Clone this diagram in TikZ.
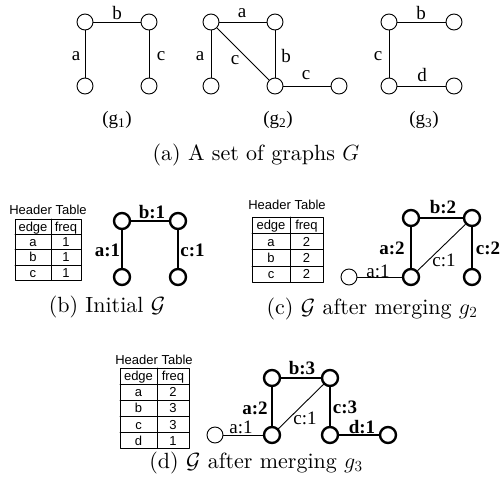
\documentclass[tikz,border=0pt]{standalone}
\usepackage{fix-cm}
\usepackage{fontspec}
\newfontfamily\tmsfont{Liberation Serif}
\newfontfamily\hlvfont{Liberation Sans}
\newfontfamily\capfont{lmroman10-regular.otf}
\usetikzlibrary{positioning}
\begin{document}
\begin{tikzpicture}[x=1pt,y=-1pt,line cap=round,line join=round]
\path[fill=white] (0,0) rectangle (504,485);
\tikzset{vtx/.style={draw,circle,inner sep=0pt,minimum size=16pt,line width=0.9pt,fill=white},vtxb/.style={vtx,line width=2.4pt},edge/.style={draw,line width=0.9pt},edgeb/.style={draw,line width=2.4pt},lbl/.style={font=\fontsize{19}{22}\selectfont\tmsfont,inner sep=0pt},lblb/.style={font=\fontsize{19}{22}\selectfont\tmsfont\bfseries,inner sep=0pt},captxt/.style={font=\fontsize{22}{26}\selectfont\capfont,inner sep=0pt},tbl/.style={draw,line width=0.8pt},cell/.style={font=\fontsize{13}{15}\selectfont\hlvfont,inner sep=0pt,anchor=base}}
% (a) the three graphs
\node[vtx] (g1tl) at (85,22) {}; \node[vtx] (g1tr) at (149,22) {}; \node[vtx] (g1bl) at (85,86) {}; \node[vtx] (g1br) at (149,86) {};
\draw[edge] (g1bl) -- (g1tl); \draw[edge] (g1tl) -- (g1tr); \draw[edge] (g1tr) -- (g1br);
\node[lbl] (g1la) at (76,56) {a}; \node[lbl] (g1lb) at (117,13) {b}; \node[lbl] (g1lc) at (161,56) {c};
\node[lbl] (g1cap) at (117,120) {(g\textsubscript{1})};
\node[vtx] (g2tl) at (211,22) {}; \node[vtx] (g2tr) at (275,22) {}; \node[vtx] (g2bl) at (211,86) {}; \node[vtx] (g2br) at (275,86) {}; \node[vtx] (g2fr) at (339,86) {};
\draw[edge] (g2tl) -- (g2tr); \draw[edge] (g2tl) -- (g2bl); \draw[edge] (g2tl) -- (g2br); \draw[edge] (g2tr) -- (g2br); \draw[edge] (g2br) -- (g2fr);
\node[lbl] (g2la) at (242,13) {a}; \node[lbl] (g2lat) at (200,56) {a}; \node[lbl] (g2lc) at (235,60) {c}; \node[lbl] (g2lb) at (286,56) {b}; \node[lbl] (g2lcr) at (306,75) {c};
\node[lbl] (g2cap) at (278,120) {(g\textsubscript{2})};
\node[vtx] (g3tl) at (389,22) {}; \node[vtx] (g3tr) at (454,22) {}; \node[vtx] (g3bl) at (389,86) {}; \node[vtx] (g3br) at (454,86) {};
\draw[edge] (g3tl) -- (g3tr); \draw[edge] (g3tl) -- (g3bl); \draw[edge] (g3bl) -- (g3br);
\node[lbl] (g3lb) at (421,13) {b}; \node[lbl] (g3lc) at (378,56) {c}; \node[lbl] (g3ld) at (422,75) {d};
\node[lbl] (g3cap) at (424,120) {(g\textsubscript{3})};
\node[captxt] (capa) at (256,155) {(a) A set of graphs $G$};
% (b) initial
\node[cell] (hdrb) at (48,214.7) {Header Table};
\draw[tbl] (15,219) rectangle (81,280.2); \draw[tbl] (51,219) -- (51,280.2);
\foreach \i in {1,2,3} \draw[tbl] (15,219+15.3*\i) -- (81,219+15.3*\i);
\foreach \e/\f [count=\i] in {edge/freq,a/1,b/1,c/1} {\node[cell] (tbe\i) at (33,219+15.3*\i-7.65+4.7) {\e}; \node[cell] (tbf\i) at (66,219+15.3*\i-7.65+4.7) {\f};}
\node[vtxb] (btl) at (122,221) {}; \node[vtxb] (btr) at (178,221) {}; \node[vtxb] (bbl) at (122,277) {}; \node[vtxb] (bbr) at (178,277) {};
\draw[edgeb] (bbl) -- (btl); \draw[edgeb] (btl) -- (btr); \draw[edgeb] (btr) -- (bbr);
\node[lblb] (bla) at (107.5,250) {a:1}; \node[lblb] (blb) at (152,212.5) {b:1}; \node[lblb] (blc) at (192.5,250) {c:1};
\node[captxt] (capb) at (107,307) {(b) Initial $\mathcal{G}$};
% (c) after merging g2
\node[cell] (hdrc) at (287,209.7) {Header Table};
\draw[tbl] (252,217) rectangle (323,282.2); \draw[tbl] (290,217) -- (290,282.2);
\foreach \i in {1,2,3} \draw[tbl] (252,217+16.3*\i) -- (323,217+16.3*\i);
\foreach \e/\f [count=\i] in {edge/freq,a/2,b/2,c/2} {\node[cell] (tce\i) at (271,217+16.3*\i-8.15+4.7) {\e}; \node[cell] (tcf\i) at (306.5,217+16.3*\i-8.15+4.7) {\f};}
\node[vtxb] (ctl) at (411,218) {}; \node[vtxb] (ctr) at (472,218) {}; \node[vtxb] (cbl) at (411,277) {}; \node[vtxb] (cbr) at (472,277) {}; \node[vtx] (cfl) at (349,277) {};
\draw[edge] (cfl) -- (cbl); \draw[edge] (cbl) -- (ctr); \draw[edgeb] (cbl) -- (ctl); \draw[edgeb] (ctl) -- (ctr); \draw[edgeb] (ctr) -- (cbr);
\node[lblb] (clb) at (443,207.5) {b:2}; \node[lblb] (cla) at (392,248) {a:2}; \node[lblb] (clc) at (488,248) {c:2};
\node[lbl] (clcd) at (444,260) {c:1}; \node[lbl] (clal) at (378,271) {a:1};
\node[captxt] (capc) at (372,309) {(c) $\mathcal{G}$ after merging $g_2$};
% (d) after merging g3
\node[cell] (hdrd) at (154,364.7) {Header Table};
\draw[tbl] (120,368) rectangle (189,448.5); \draw[tbl] (157,368) -- (157,448.5);
\foreach \i in {1,2,3,4} \draw[tbl] (120,368+16.1*\i) -- (189,368+16.1*\i);
\foreach \e/\f [count=\i] in {edge/freq,a/2,b/3,c/3,d/1} {\node[cell] (tde\i) at (138.5,368+16.1*\i-8.05+4.7) {\e}; \node[cell] (tdf\i) at (173,368+16.1*\i-8.05+4.7) {\f};}
\node[vtxb] (dtl) at (272,378) {}; \node[vtxb] (dtr) at (330,378) {}; \node[vtxb] (dbl) at (272,435) {}; \node[vtxb] (dbr) at (330,435) {}; \node[vtx] (dfl) at (215,435) {}; \node[vtxb] (dfr) at (388,435) {};
\draw[edge] (dfl) -- (dbl); \draw[edge] (dbl) -- (dtr); \draw[edgeb] (dbl) -- (dtl); \draw[edgeb] (dtl) -- (dtr); \draw[edgeb] (dtr) -- (dbr); \draw[edgeb] (dbr) -- (dfr);
\node[lblb] (dlb) at (302,368) {b:3}; \node[lblb] (dla) at (255,408) {a:2}; \node[lblb] (dlc) at (345,407.5) {c:3}; \node[lblb] (dld) at (362,427) {d:1};
\node[lbl] (dlcd) at (305,418) {c:1}; \node[lbl] (dlal) at (241,427.5) {a:1};
\node[captxt] (capd) at (256,463) {(d) $\mathcal{G}$ after merging $g_3$};
\end{tikzpicture}
\end{document}
